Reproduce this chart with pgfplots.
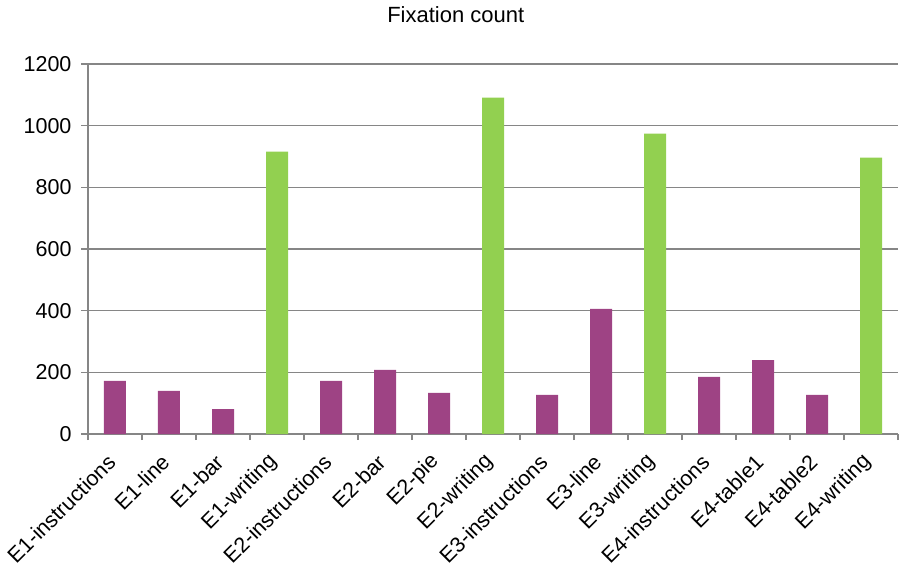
\documentclass[border=0pt]{standalone}
\usepackage{pgfplots}
\pgfplotsset{compat=1.18}
\usepackage{fontspec}
\setmainfont{Liberation Sans}

\definecolor{barpurple}{HTML}{9E4384}
\definecolor{bargreen}{HTML}{92D050}
\definecolor{axisgray}{HTML}{868686}

\begin{document}
\begin{tikzpicture}
\begin{axis}[
    name=ax,
    scale only axis,
    width=810pt, height=370pt,
    xmin=0.5, xmax=15.5,
    ymin=0, ymax=1200,
    ytick={0,200,...,1200},
    xtick={1,...,15},
    xticklabels={E1-instructions,E1-line,E1-bar,E1-writing,E2-instructions,E2-bar,E2-pie,E2-writing,E3-instructions,E3-line,E3-writing,E4-instructions,E4-table1,E4-table2,E4-writing},
    minor xtick={0.5,1.5,...,15.5},
    axis x line*=bottom,
    axis y line*=left,
    axis line style={axisgray, line width=1.2pt},
    ymajorgrids=true,
    grid style={axisgray, line width=1.2pt},
    major x tick style={draw=none},
    minor x tick style={axisgray, line width=1.2pt},
    major y tick style={axisgray, line width=1.2pt},
    tick align=outside,
    major tick length=7pt,
    minor tick length=6pt,
    /pgf/number format/assume math mode=true,
    /pgf/number format/1000 sep={},
    ticklabel style={font=\fontsize{21.5}{25}\selectfont, text=black},
    yticklabel style={xshift=-6pt},
    xticklabel style={xshift=-1pt, yshift=-15pt, rotate=45, anchor=east},
    title={Fixation count},
    title style={font=\fontsize{22}{26}\selectfont, at={(0.454,1)}, anchor=base, yshift=35pt},
    bar width=22pt,
    ybar, bar shift=0pt,
]
\addplot[fill=barpurple, draw=none] coordinates {
    (1,172) (2,140) (3,81) (5,172) (6,208) (7,133)
    (9,127) (10,406) (12,185) (13,240) (14,127)
};
\addplot[fill=bargreen, draw=none] coordinates {
    (4,916) (8,1091) (11,974) (15,896)
};
\end{axis}
\path (ax.south west) ++(-88pt,-136pt) rectangle ++(910pt,570pt);
\end{tikzpicture}
\end{document}
